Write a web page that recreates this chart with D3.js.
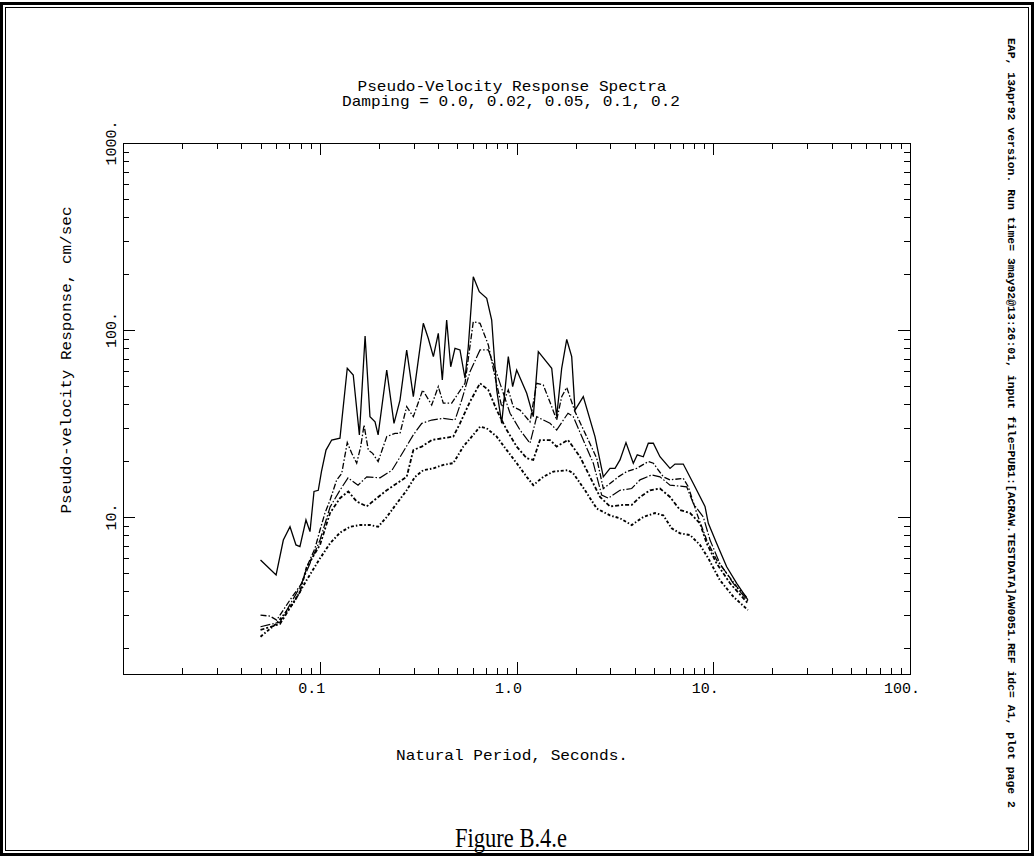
<!DOCTYPE html>
<html>
<head>
<meta charset="utf-8">
<script src="https://cdn.jsdelivr.net/npm/d3@7"></script>
<style>
  html, body { margin: 0; padding: 0; background: #fff; }
  svg { display: block; }
  text { font-family: "Liberation Mono", "DejaVu Sans Mono", monospace; fill: #000; }
</style>
</head>
<body>
<svg id="chart" width="1034" height="856"></svg>
<script>
// ---- text ----
const titleLines = ["Pseudo-Velocity Response Spectra", "Damping = 0.0, 0.02, 0.05, 0.1, 0.2"];
const xAxisTitle = "Natural Period, Seconds.";
const yAxisTitle = "Pseudo-velocity Response, cm/sec";
const runInfo = "EAP, 13Apr92 version. Run time= 3may92@13:26:01, input file=PUB1:[ACRAW.TESTDATA]AW0051.REF idc= A1, plot page 2";
const caption = "Figure B.4.e";

// ---- axis ticks ----
const xTickValues = [0.1, 1, 10, 100];
const xTickLabels = ["0.1", "1.0", "10.", "100."];
const yTickValues = [10, 100, 1000];
const yTickLabels = ["10.", "100.", "1000."];

// ---- spectra: period (s) and pseudo-velocity (cm/sec), one pair per damping ----
const dampings = [0.0, 0.02, 0.05, 0.1, 0.2];

const period0 = [0.05,0.06,0.0653,0.0706,0.0757,0.0793,0.0851,0.0892,0.0935,0.0983,0.102,0.1076,0.115,0.1267,0.138,0.148,0.159,0.170,0.180,0.191,0.198,0.219,0.2384,0.2558,0.2766,0.299,0.336,0.356,0.378,0.4004,0.4197,0.4416,0.463,0.4868,0.5161,0.5473,0.5689,0.603,0.647,0.7057,0.748,0.793,0.841,0.9085,0.956,1.002,1.127,1.217,1.291,1.51,1.60,1.697,1.80,1.908,1.983,2.185,2.506,2.762,2.987,3.168,3.357,3.601,3.924,4.11,4.41,4.677,4.96,5.36,6.03,6.39,7.04,7.92,9.08,9.44,10.4,11.7,13.16,15];
const psv0 = [5.89,4.90,7.53,8.87,7.09,6.94,9.64,8.35,13.7,13.9,17.5,22.8,25.8,26.4,62.4,57.5,27.5,92.9,34.4,32.3,27.5,61.1,31.7,42.2,78.2,44.0,108.6,90.3,72.0,96.0,54.0,113.1,63.6,79.8,78.2,55.2,81.4,192.8,160.3,147.7,113.1,47.8,31.7,72.0,49.8,61.1,45.9,34.4,76.6,62.4,34.4,62.4,89.0,72.0,37.3,44.0,26.9,16.4,18.2,18.2,20.2,25.0,19.4,21.5,21.0,24.8,24.8,21.0,18.2,19.2,19.2,15.1,11.4,9.25,7.23,5.42,4.42,3.60];

const period1 = [0.05,0.0559,0.0604,0.0706,0.081,0.0875,0.0946,0.1003,0.1063,0.1128,0.122,0.1293,0.138,0.1454,0.1541,0.1615,0.1679,0.1765,0.1858,0.198,0.219,0.2413,0.2558,0.2766,0.299,0.3337,0.3707,0.4004,0.4246,0.4685,0.506,0.5473,0.603,0.6526,0.7191,0.7775,0.841,0.9085,0.963,1.042,1.171,1.267,1.368,1.51,1.60,1.697,1.80,1.983,2.274,2.557,2.762,2.987,3.291,3.632,4.082,4.677,4.96,5.574,6.03,7.04,7.47,8.24,9.26,10.4,11.7,13.16,15];
const psv1 = [2.99,2.95,2.81,3.60,4.42,5.65,6.80,8.52,10.5,12.3,15.8,17.1,25.0,21.9,19.4,23.8,31.0,22.8,21.9,19.8,26.9,28.0,28.0,38.9,34.4,47.8,39.7,49.8,40.6,40.6,45.9,51.9,110.8,108.6,83.2,56.3,38.9,47.8,38.9,37.3,32.3,51.9,50.8,38.9,33.0,44.0,49.3,36.6,26.9,20.6,14.2,15.1,16.4,17.5,18.2,19.8,19.4,16.4,15.8,16.1,14.5,10.5,7.53,5.89,5.00,4.24,3.67];

const period2 = [0.05,0.0628,0.0793,0.1003,0.1128,0.1267,0.1392,0.1565,0.1733,0.2025,0.2329,0.2558,0.299,0.33,0.3707,0.4246,0.4868,0.5266,0.5803,0.6526,0.7191,0.793,0.857,0.927,1.042,1.171,1.267,1.48,1.60,1.827,1.944,2.185,2.457,2.71,2.928,3.357,3.851,4.243,4.87,5.36,6.03,7.33,7.92,8.9,9.63,10.8,12.65,15];
const psv2 = [2.59,2.74,4.22,7.53,11.3,13.9,16.2,14.8,16.4,16.2,17.8,20.9,27.5,31.7,33.0,33.7,33.0,42.2,59.8,78.2,78.2,58.7,45.9,35.9,29.2,24.8,34.4,31.7,29.2,35.9,34.4,25.8,19.4,13.1,12.6,13.9,14.2,15.8,16.8,16.4,14.8,14.5,11.8,10.0,7.53,5.65,4.42,3.55];

const period3 = [0.05,0.0628,0.0793,0.0858,0.1003,0.1128,0.1267,0.1397,0.1541,0.1733,0.1948,0.219,0.246,0.2766,0.299,0.33,0.3707,0.4246,0.4773,0.5161,0.5803,0.6526,0.7191,0.793,0.892,1.002,1.127,1.217,1.316,1.48,1.60,1.827,2.102,2.363,2.657,2.987,3.489,3.851,4.243,4.77,5.36,6.03,6.78,7.62,8.56,9.26,10.4,12.17,15];
const psv3 = [2.49,2.68,3.97,5.40,7.09,10.5,12.6,13.7,12.1,11.4,12.6,13.9,15.1,16.4,22.8,23.8,25.8,26.4,26.9,31.7,41.4,51.9,47.8,37.3,29.2,23.8,20.6,20.2,25.8,25.8,23.8,25.8,21.0,16.4,12.8,11.4,11.6,11.6,12.8,13.9,14.2,12.8,10.9,10.5,9.25,7.23,5.65,4.42,3.45];

const period4 = [0.05,0.0604,0.0734,0.0858,0.1003,0.1128,0.1267,0.1425,0.1602,0.180,0.198,0.219,0.246,0.2766,0.305,0.336,0.378,0.4246,0.4773,0.5365,0.603,0.6526,0.7057,0.793,0.892,1.002,1.127,1.217,1.368,1.539,1.827,1.944,2.23,2.557,2.987,3.357,3.851,4.41,5.06,5.574,6.15,6.78,7.62,8.56,9.44,10.8,12.65,15];
const psv4 = [2.29,2.70,3.46,4.60,6.01,7.23,8.24,8.87,9.06,9.06,8.87,10.0,11.8,13.9,16.4,17.8,18.2,19.0,19.4,23.8,27.5,30.4,29.8,26.9,22.8,19.4,16.4,14.8,16.4,17.5,17.8,17.1,13.9,11.1,10.2,9.84,9.06,10.0,10.5,10.2,8.70,8.18,8.01,7.09,6.01,4.60,3.75,3.18];

const periods = [period0, period1, period2, period3, period4];
const values = [psv0, psv1, psv2, psv3, psv4];

// line pattern per damping level (plotter pen styles)
const lineStyles = [
  { dash: null,            width: 1.3 },
  { dash: "6,2,1.5,2",     width: 1.3 },
  { dash: "10,2,1.5,2",    width: 1.2 },
  { dash: "4,2,2,2",       width: 1.8 },
  { dash: "3,2,1.5,2",     width: 1.9 }
];

// ---- layout ----
const W = 1034, H = 856;
const plot = { left: 123, right: 910, top: 143, bottom: 674 };

const svg = d3.select("#chart");

// page frame (double rule)
svg.append("rect").attr("x", 1.5).attr("y", 3.5).attr("width", W - 3).attr("height", H - 5)
  .attr("fill", "none").attr("stroke", "#000").attr("stroke-width", 3);
svg.append("rect").attr("x", 5.5).attr("y", 7.5).attr("width", W - 11).attr("height", H - 13)
  .attr("fill", "none").attr("stroke", "#000").attr("stroke-width", 1);

const x = d3.scaleLog().domain([0.01, 100]).range([plot.left, plot.right]);
const y = d3.scaleLog().domain([1.447, 1000]).range([plot.bottom, plot.top]);

const isDecade = v => Math.abs(Math.log10(v) - Math.round(Math.log10(v))) < 1e-9;
const xAll = x.ticks();
const yAll = y.ticks();
const xMajor = xAll.filter(isDecade), xMinor = xAll.filter(v => !isDecade(v));
const yMajor = yAll.filter(isDecade), yMinor = yAll.filter(v => !isDecade(v));

function tickGroup(axis, tx, ty) {
  const g = svg.append("g").attr("transform", `translate(${tx},${ty})`).call(axis);
  g.select(".domain").remove();
  g.selectAll("line").attr("stroke", "#000").attr("stroke-width", 1).attr("shape-rendering", "crispEdges");
  g.selectAll("text").remove();
  return g;
}
const majorLen = 12, minorLen = 6;
// inward ticks on all four sides
tickGroup(d3.axisTop(x).tickValues(xMinor).tickSize(minorLen), 0, plot.bottom);
tickGroup(d3.axisTop(x).tickValues(xMajor).tickSize(majorLen), 0, plot.bottom);
tickGroup(d3.axisBottom(x).tickValues(xMinor).tickSize(minorLen), 0, plot.top);
tickGroup(d3.axisBottom(x).tickValues(xMajor).tickSize(majorLen), 0, plot.top);
tickGroup(d3.axisRight(y).tickValues(yMinor).tickSize(minorLen), plot.left, 0);
tickGroup(d3.axisRight(y).tickValues(yMajor).tickSize(majorLen), plot.left, 0);
tickGroup(d3.axisLeft(y).tickValues(yMinor).tickSize(minorLen), plot.right, 0);
tickGroup(d3.axisLeft(y).tickValues(yMajor).tickSize(majorLen), plot.right, 0);

// plot border
svg.append("rect")
  .attr("x", plot.left + 0.5).attr("y", plot.top + 0.5)
  .attr("width", plot.right - plot.left).attr("height", plot.bottom - plot.top)
  .attr("fill", "none").attr("stroke", "#000").attr("stroke-width", 1.2)
  .attr("shape-rendering", "crispEdges");

// tick labels
svg.append("g").selectAll("text").data(xTickValues).join("text")
  .attr("x", d => x(d) - 8).attr("y", plot.bottom + 19)
  .attr("text-anchor", "middle").attr("font-size", 15)
  .text((d, i) => xTickLabels[i]);

svg.append("g").selectAll("text").data(yTickValues).join("text")
  .attr("transform", d => `translate(${plot.left - 7},${y(d)}) rotate(-90)`)
  .attr("text-anchor", "middle").attr("font-size", 15)
  .text((d, i) => yTickLabels[i]);

// spectra curves
const line = d3.line().x(d => x(d[0])).y(d => y(d[1]));
const curves = dampings.map((h, i) => ({
  damping: h,
  points: periods[i].map((p, j) => [p, values[i][j]]),
  style: lineStyles[i]
}));
svg.append("g").selectAll("path").data(curves).join("path")
  .attr("d", d => line(d.points))
  .attr("fill", "none").attr("stroke", "#000")
  .attr("stroke-width", d => d.style.width)
  .attr("stroke-dasharray", d => d.style.dash)
  .attr("stroke-linejoin", "miter");

// titles
svg.append("text").attr("x", 512).attr("y", 91).attr("text-anchor", "middle")
  .attr("font-size", 15).attr("textLength", 309).attr("lengthAdjust", "spacingAndGlyphs")
  .text(titleLines[0]);
svg.append("text").attr("x", 511).attr("y", 106).attr("text-anchor", "middle")
  .attr("font-size", 15).attr("textLength", 338).attr("lengthAdjust", "spacingAndGlyphs")
  .text(titleLines[1]);

svg.append("text").attr("x", 512).attr("y", 760).attr("text-anchor", "middle")
  .attr("font-size", 15).attr("textLength", 232).attr("lengthAdjust", "spacingAndGlyphs")
  .text(xAxisTitle);

svg.append("text").attr("transform", "translate(71,360) rotate(-90)")
  .attr("text-anchor", "middle").attr("font-size", 15)
  .attr("textLength", 307).attr("lengthAdjust", "spacingAndGlyphs")
  .text(yAxisTitle);

// run information along the right margin
svg.append("text").attr("transform", "translate(1008,38) rotate(90)")
  .attr("font-size", 11).attr("font-weight", "bold")
  .attr("textLength", 770).attr("lengthAdjust", "spacingAndGlyphs")
  .text(runInfo);

// figure caption
svg.append("text").attr("x", 511).attr("y", 847).attr("text-anchor", "middle")
  .style("font-family", "'Liberation Serif', 'DejaVu Serif', serif")
  .attr("font-size", 27).attr("textLength", 112).attr("lengthAdjust", "spacingAndGlyphs")
  .text(caption);
</script>
</body>
</html>
